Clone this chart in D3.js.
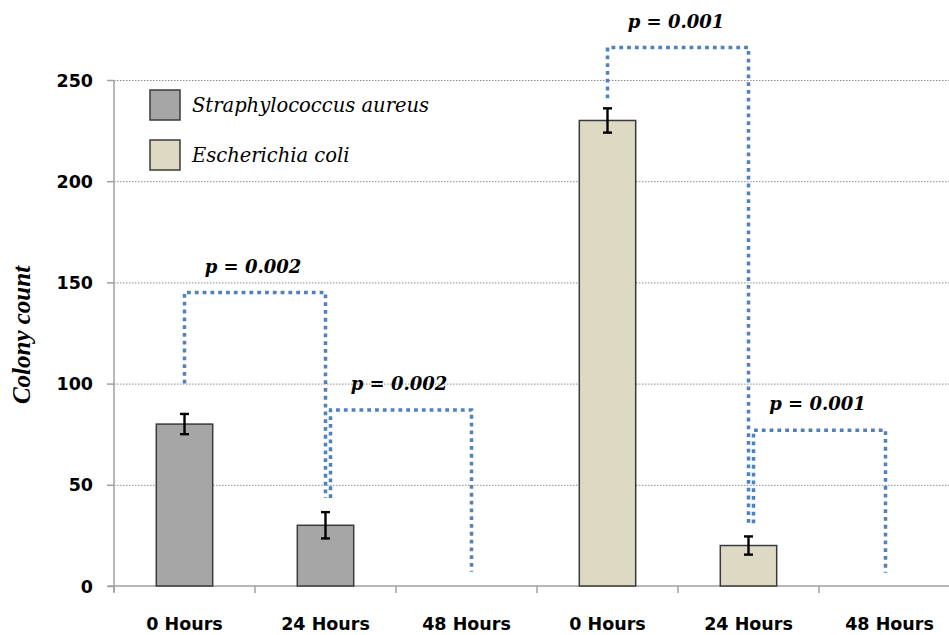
<!DOCTYPE html>
<html>
<head>
<meta charset="utf-8">
<script src="https://cdn.jsdelivr.net/npm/d3@7"></script>
<style>
  body { margin: 0; background: #fff; }
  .tick-label { font-family: 'DejaVu Sans', sans-serif; font-weight: bold; font-size: 17.5px; fill: #000; }
  .p-label { font-family: 'DejaVu Serif', serif; font-weight: bold; font-style: italic; font-size: 18px; }
  .legend-label { font-family: 'DejaVu Serif', serif; font-style: italic; font-size: 19.5px; }
</style>
</head>
<body>
<div id="chart"></div>
<script>
// data
let groups = ['Straphylococcus aureus', 'Escherichia coli'];
let hourLabels = ['0 Hours', '24 Hours', '48 Hours'];
let saValues = [80, 30, 0];
let saErrors = [5, 6.5, 0];
let ecValues = [230, 20, 0];
let ecErrors = [6, 4.5, 0];
let yTicks = [0, 50, 100, 150, 200, 250];

// comparisons: bar index from/to, top of bracket, bottoms of left and right legs
let pLabels = ['p = 0.002', 'p = 0.002', 'p = 0.001', 'p = 0.001'];
let pFrom = [0, 1, 3, 4];
let pTo = [1, 2, 4, 5];
let pTop = [145, 87, 266, 77];
let pLeftBottom = [100, 43.5, 241, 31];
let pRightBottom = [43.5, 7, 31, 6.5];

let colors = ['#a6a6a6', '#ddd9c3'];
let dotBlue = '#4f81bd';

let width = 949, height = 635;
let svg = d3.select('#chart').append('svg').attr('width', width).attr('height', height);

// one entry per bar slot
let bars = [];
hourLabels.forEach(function(h, i) { bars.push({ key: 'sa' + i, label: h, value: saValues[i], err: saErrors[i], g: 0 }); });
hourLabels.forEach(function(h, i) { bars.push({ key: 'ec' + i, label: h, value: ecValues[i], err: ecErrors[i], g: 1 }); });

let x = d3.scaleBand().domain(bars.map(function(d) { return d.key; }))
  .range([114, 960]).paddingInner(0.6).paddingOuter(0.3);
let y = d3.scaleLinear().domain([0, 250]).range([586, 80]);
let step = x.step();

// gridlines
svg.append('g').selectAll('line').data(yTicks.slice(1)).enter().append('line')
  .attr('x1', 114).attr('x2', width)
  .attr('y1', function(d) { return y(d) + 0.5; }).attr('y2', function(d) { return y(d) + 0.5; })
  .attr('stroke', '#8c8c8c').attr('stroke-width', 1).attr('stroke-dasharray', '1.5,1.5');

// y axis
let yAxis = svg.append('g').attr('transform', 'translate(114,0)')
  .call(d3.axisLeft(y).tickValues(yTicks).tickSize(7).tickPadding(14));
yAxis.select('.domain').attr('stroke', '#a0a0a0').attr('stroke-width', 1.5)
  .attr('d', 'M0,' + (y(250)) + 'V' + (y(0) + 6));
yAxis.selectAll('.tick line').attr('stroke', '#a0a0a0').attr('stroke-width', 1.5);
yAxis.selectAll('.tick text').attr('class', 'tick-label').attr('dy', '0.35em');

// x axis
svg.append('line').attr('x1', 108).attr('x2', width).attr('y1', y(0)).attr('y2', y(0))
  .attr('stroke', '#a0a0a0').attr('stroke-width', 1.5);
svg.append('g').selectAll('line').data(bars).enter().append('line')
  .attr('x1', function(d) { return x(d.key) - step * 0.3; })
  .attr('x2', function(d) { return x(d.key) - step * 0.3; })
  .attr('y1', y(0)).attr('y2', y(0) + 7)
  .attr('stroke', '#a0a0a0').attr('stroke-width', 1.5);
svg.append('g').selectAll('text').data(bars).enter().append('text')
  .attr('class', 'tick-label')
  .attr('x', function(d) { return x(d.key) + x.bandwidth() / 2; })
  .attr('y', 630)
  .attr('text-anchor', 'middle')
  .text(function(d) { return d.label; });

// bars
let shown = bars.filter(function(d) { return d.value > 0; });
svg.append('g').selectAll('rect').data(shown).enter().append('rect')
  .attr('x', function(d) { return x(d.key); })
  .attr('y', function(d) { return y(d.value); })
  .attr('width', x.bandwidth())
  .attr('height', function(d) { return y(0) - y(d.value); })
  .attr('fill', function(d) { return colors[d.g]; })
  .attr('stroke', '#3a3a3a').attr('stroke-width', 1.5);

// error bars
let eb = svg.append('g').selectAll('g').data(shown).enter().append('g')
  .attr('stroke', '#000').attr('stroke-width', 2.4);
eb.append('line')
  .attr('x1', function(d) { return x(d.key) + x.bandwidth() / 2; })
  .attr('x2', function(d) { return x(d.key) + x.bandwidth() / 2; })
  .attr('y1', function(d) { return y(d.value + d.err); })
  .attr('y2', function(d) { return y(d.value - d.err); });
[1, -1].forEach(function(s) {
  eb.append('line')
    .attr('x1', function(d) { return x(d.key) + x.bandwidth() / 2 - 4.5; })
    .attr('x2', function(d) { return x(d.key) + x.bandwidth() / 2 + 4.5; })
    .attr('y1', function(d) { return y(d.value + s * d.err); })
    .attr('y2', function(d) { return y(d.value + s * d.err); });
});

// significance brackets
let nudgeLeft = [0, 5, 0, 5];
let nudgeRight = [0, 5, 0, -4];
for (let i = 0; i < pLabels.length; i++) {
  let xl = x(bars[pFrom[i]].key) + x.bandwidth() / 2 + nudgeLeft[i];
  let xr = x(bars[pTo[i]].key) + x.bandwidth() / 2 + nudgeRight[i];
  let path = d3.path();
  path.moveTo(xl, y(pLeftBottom[i]));
  path.lineTo(xl, y(pTop[i]));
  path.lineTo(xr, y(pTop[i]));
  path.lineTo(xr, y(pRightBottom[i]));
  svg.append('path').attr('d', path.toString())
    .attr('fill', 'none').attr('stroke', dotBlue)
    .attr('stroke-width', 3.5).attr('stroke-dasharray', '3.8,4');
  svg.append('text').attr('class', 'p-label')
    .attr('x', (xl + xr) / 2 - 2).attr('y', y(pTop[i]) - 20)
    .attr('text-anchor', 'middle')
    .text(pLabels[i]);
}

// y title
svg.append('text')
  .attr('transform', 'translate(30,335) rotate(-90)')
  .attr('text-anchor', 'middle')
  .attr('font-family', "'Liberation Serif', serif")
  .attr('font-weight', 'bold').attr('font-style', 'italic')
  .attr('font-size', 25)
  .text('Colony count');

// legend
let ly = 90;
for (let i = 0; i < groups.length; i++) {
  svg.append('rect')
    .attr('x', 150).attr('y', ly).attr('width', 30).attr('height', 30)
    .attr('fill', colors[i]).attr('stroke', '#3a3a3a').attr('stroke-width', 1.5);
  svg.append('text').attr('class', 'legend-label')
    .attr('x', 192).attr('y', ly + 22)
    .text(groups[i]);
  ly += 50;
}
</script>
</body>
</html>
